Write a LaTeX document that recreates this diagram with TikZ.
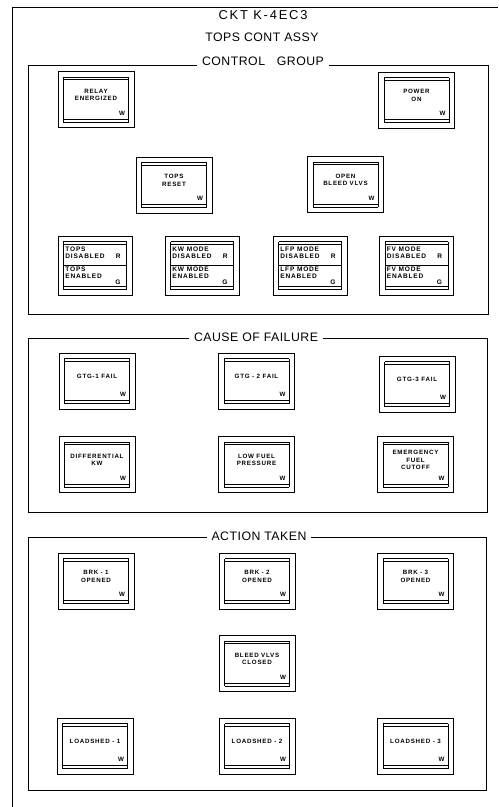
\documentclass[tikz,border=0pt]{standalone}
\usepackage{fontspec}
\setmainfont{Liberation Sans}
\newfontfamily\panelfont[LetterSpace=4]{Liberation Sans}
\newfontfamily\cktfont[LetterSpace=14]{Liberation Sans}
\newfontfamily\lampfont[LetterSpace=12]{Liberation Sans}
\begin{document}
\begin{tikzpicture}[x=0.03cm, y=-0.03cm, line width=0.8pt,
  heading/.style={font=\panelfont\fontsize{10.5}{12}\selectfont, inner sep=1pt},
  grouptitle/.style={heading, fill=white, inner xsep=4pt},
  lampbox/.style={draw, outer sep=0pt, inner sep=0pt,
    font=\lampfont\bfseries\fontsize{5.3}{6.4}\selectfont},
  % inner window with the thin strips at top and bottom
  window/.style={append after command={
    [line width=0.7pt]
    ([shift={(0.165cm,-0.165cm)}]\tikzlastnode.north west) edge[draw, -] ([shift={(0.165cm,0.165cm)}]\tikzlastnode.south west)
    ([shift={(0.165cm,0.165cm)}]\tikzlastnode.south west) edge[draw, -] ([shift={(-0.165cm,0.165cm)}]\tikzlastnode.south east)
    ([shift={(-0.165cm,0.165cm)}]\tikzlastnode.south east) edge[draw, -] ([shift={(-0.165cm,-0.165cm)}]\tikzlastnode.north east)
    ([shift={(-0.165cm,-0.165cm)}]\tikzlastnode.north east) edge[draw, -] ([shift={(0.165cm,-0.165cm)}]\tikzlastnode.north west)
    ([shift={(0.165cm,-0.24cm)}]\tikzlastnode.north west) edge[draw, -, line width=0.5pt] ([shift={(-0.165cm,-0.24cm)}]\tikzlastnode.north east)
    ([shift={(0.165cm,0.255cm)}]\tikzlastnode.south west) edge[draw, -, line width=0.5pt] ([shift={(-0.165cm,0.255cm)}]\tikzlastnode.south east)
    }},
  wlamp/.style={lampbox, window, minimum width=2.28cm, minimum height=1.68cm,
    align=center, text depth=0.28cm, label={[lampmark]below:W}},
  lampmark/.style={font=\lampfont\bfseries\fontsize{5.3}{6}\selectfont,
    inner sep=0pt, xshift=0.78cm, yshift=0.51cm},
  splitlamp/.style={lampbox, window, minimum width=2.22cm, minimum height=1.77cm,
    font=\lampfont\bfseries\fontsize{5.6}{6.3}\selectfont,
    append after command={
    ([xshift=0.165cm]\tikzlastnode.west) edge[draw, -, line width=0.7pt] ([xshift=-0.165cm]\tikzlastnode.east)}}
  ]
\useasboundingbox (0,0) rectangle (498,807);

% outer frame
\draw (12,807) -- (12,7) -- (498,7);
\node[heading, font=\cktfont\fontsize{11}{12}\selectfont] (ckt) at (263,15) {CKT K-4EC3};
\node[heading] (assy) at (262,37) {TOPS CONT ASSY};

% group frames
\draw[line width=0.7pt] (28,65) rectangle (488,314);
\draw[line width=0.7pt] (28,338) rectangle (487,512);
\draw[line width=0.7pt] (28,537) rectangle (486,790);
\node[grouptitle] (ctrl) at (263,61) {CONTROL\ \ \ GROUP};
\node[grouptitle] (cause) at (256,337) {CAUSE OF FAILURE};
\node[grouptitle] (action) at (259,536) {ACTION TAKEN};

% control group
\node[wlamp] (relay) at (96,99.5) {RELAY\\ENERGIZED};
\node[wlamp] (power) at (416.5,100) {POWER\\ON};
\node[wlamp] (topsreset) at (174,185) {TOPS\\RESET};
\node[wlamp] (openbleed) at (345.5,184.5) {OPEN\\BLEED VLVS};

\node[splitlamp] (topsmode) at (95,265.5) {\begin{tabular}{@{}p{1.5cm}@{}r@{\hspace{0.12cm}}}TOPS&\\DISABLED&R\\[4.5pt]TOPS&\\ENABLED&\raisebox{-5pt}{G}\end{tabular}};
\node[splitlamp] (kwmode) at (202,265.5) {\begin{tabular}{@{}p{1.5cm}@{}r@{\hspace{0.12cm}}}KW MODE&\\DISABLED&R\\[4.5pt]KW MODE&\\ENABLED&\raisebox{-5pt}{G}\end{tabular}};
\node[splitlamp] (lfpmode) at (310,265.5) {\begin{tabular}{@{}p{1.5cm}@{}r@{\hspace{0.12cm}}}LFP MODE&\\DISABLED&R\\[4.5pt]LFP MODE&\\ENABLED&\raisebox{-5pt}{G}\end{tabular}};
\node[splitlamp] (fvmode) at (416.5,265.5) {\begin{tabular}{@{}p{1.5cm}@{}r@{\hspace{0.12cm}}}FV MODE&\\DISABLED&R\\[4.5pt]FV MODE&\\ENABLED&\raisebox{-5pt}{G}\end{tabular}};

% cause of failure
\node[wlamp] (gtg1) at (97,381) {GTG-1 FAIL};
\node[wlamp] (gtg2) at (256.5,381) {GTG - 2 FAIL};
\node[wlamp] (gtg3) at (417,384) {GTG-3 FAIL};
\node[wlamp] (diffkw) at (97,464.5) {DIFFERENTIAL\\KW};
\node[wlamp] (lowfuel) at (256.5,464.5) {LOW FUEL\\PRESSURE};
\node[wlamp] (emerg) at (415.5,464.5) {EMERGENCY\\FUEL\\CUTOFF};

% action taken
\node[wlamp] (brk1) at (96,581) {BRK - 1\\OPENED};
\node[wlamp] (brk2) at (257,581) {BRK - 2\\OPENED};
\node[wlamp] (brk3) at (415.5,581) {BRK - 3\\OPENED};
\node[wlamp] (bleedclosed) at (257,663.5) {BLEED VLVS\\CLOSED};
\node[wlamp] (shed1) at (95,746) {LOADSHED - 1};
\node[wlamp] (shed2) at (257,746) {LOADSHED - 2};
\node[wlamp] (shed3) at (415.5,746) {LOADSHED - 3};
\end{tikzpicture}
\end{document}
